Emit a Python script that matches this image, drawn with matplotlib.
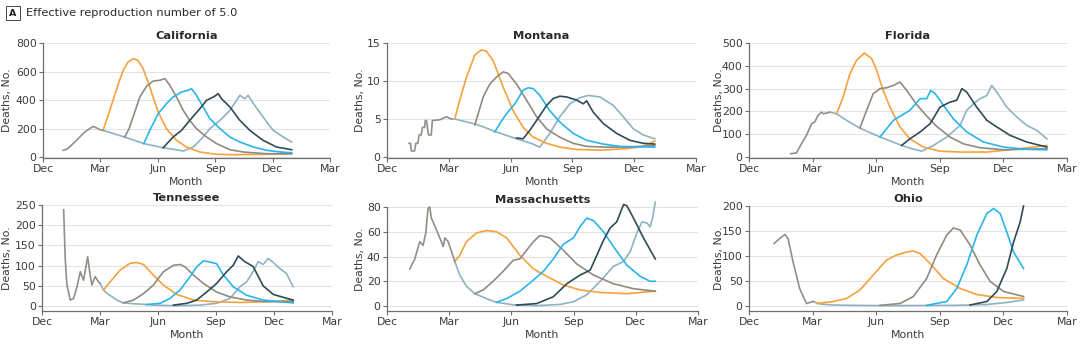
import matplotlib
matplotlib.use("Agg")
import matplotlib.pyplot as plt

plt.rcParams['font.family'] = ['Liberation Sans Narrow', 'DejaVu Sans']

# x = months after Dec 1 (0=Dec, 3=Mar, 6=Jun, 9=Sep, 12=Dec, 15=Mar)
month_ticks = [0, 3, 6, 9, 12, 15]
month_labels = ["Dec", "Mar", "Jun", "Sep", "Dec", "Mar"]

# series colours: observed, then scenarios 1..5 (5 = baseline / last start)
c_obs = "#8e9188"
c_s1 = "#f7a13c"
c_s2 = "#918a82"
c_s3 = "#29b5ea"
c_s4 = "#2f4b58"
c_s5 = "#8db3c2"

# ---- California
ca_obs = [(1.05, 47), (1.25, 55), (1.48, 82), (1.7, 110), (1.92, 140), (2.18, 175), (2.44, 199),
          (2.62, 215), (2.79, 205), (2.97, 192), (3.14, 187)]
ca_s1 = [(3.14, 187), (3.4, 290), (3.66, 398), (3.93, 510), (4.19, 608), (4.45, 667), (4.71, 690),
         (4.97, 678), (5.23, 620), (5.58, 491), (6.02, 316), (6.45, 199), (6.98, 117), (7.5, 70),
         (8.2, 35), (9.07, 19), (9.94, 16), (11.69, 19), (13.0, 23)]
ca_s2 = [(4.27, 140), (4.5, 200), (4.71, 281), (5.06, 421), (5.41, 496), (5.76, 533), (6.1, 538),
         (6.37, 550), (6.63, 503), (6.98, 421), (7.33, 327), (7.67, 257), (8.02, 199), (8.55, 140),
         (9.07, 94), (9.77, 51), (10.47, 35), (11.69, 23), (13.0, 23)]
ca_s3 = [(5.27, 94), (5.58, 187), (6.02, 304), (6.45, 374), (6.8, 421), (7.24, 456), (7.59, 468),
         (7.76, 480), (8.02, 433), (8.37, 351), (8.72, 269), (9.25, 199), (9.77, 140), (10.29, 105),
         (11.0, 70), (11.69, 47), (12.4, 35), (13.0, 30)]
ca_s4 = [(6.28, 65), (6.8, 140), (7.24, 187), (7.67, 257), (8.2, 339), (8.55, 398), (8.9, 421),
         (9.16, 444), (9.33, 409), (9.77, 351), (10.29, 257), (10.81, 187), (11.5, 117), (12.21, 70),
         (13.0, 51)]
ca_s5 = [(3.14, 187), (4.27, 140), (5.27, 94), (6.28, 65), (7.0, 50), (7.33, 42), (7.85, 70),
         (8.37, 140), (8.72, 199), (9.25, 257), (9.77, 327), (10.12, 398), (10.29, 433), (10.55, 409),
         (10.72, 433), (11.0, 374), (11.5, 281), (12.03, 187), (12.56, 140), (13.0, 105)]

# ---- Montana
mt_obs = [(1.07, 1.8), (1.14, 1.8), (1.18, 0.8), (1.34, 0.8), (1.4, 1.8), (1.5, 1.8), (1.56, 2.9),
          (1.66, 2.9), (1.72, 3.9), (1.82, 3.9), (1.86, 4.8), (1.92, 4.8), (1.96, 3.9), (2.02, 2.9),
          (2.15, 2.9), (2.2, 4.8), (2.56, 4.9), (2.88, 5.3), (3.13, 5.0)]
mt_s1 = [(3.29, 5.0), (3.53, 7.5), (3.86, 10.5), (4.26, 13.4), (4.58, 14.1), (4.83, 13.9),
         (5.15, 12.7), (5.64, 9.2), (6.12, 6.1), (6.61, 3.9), (7.1, 2.6), (7.75, 1.8), (8.39, 1.3),
         (9.2, 1.0), (10.34, 0.9), (11.63, 1.1), (12.44, 1.4), (13.0, 2.1)]
mt_s2 = [(4.26, 4.2), (4.67, 7.9), (4.99, 9.6), (5.31, 10.5), (5.64, 11.2), (5.88, 11.0),
         (6.29, 9.6), (6.77, 7.5), (7.26, 5.3), (7.75, 3.7), (8.39, 2.6), (9.04, 1.8), (9.69, 1.4),
         (10.66, 1.3), (11.63, 1.3), (13.0, 1.5)]
mt_s3 = [(5.23, 3.3), (5.48, 4.4), (5.8, 5.7), (6.21, 7.0), (6.61, 8.8), (6.85, 9.1), (7.1, 9.0),
         (7.42, 8.1), (7.9, 6.1), (8.39, 4.6), (9.04, 3.1), (9.69, 2.2), (10.5, 1.7), (11.31, 1.4),
         (13.0, 1.3)]
mt_s4 = [(6.29, 2.5), (6.61, 2.4), (6.93, 3.5), (7.26, 4.8), (7.75, 6.8), (8.07, 7.7), (8.39, 8.0),
         (8.72, 7.9), (9.2, 7.5), (9.53, 7.0), (9.69, 7.4), (10.01, 5.9), (10.5, 4.4), (11.15, 3.1),
         (11.79, 2.2), (12.44, 1.8), (13.0, 1.7)]
mt_s5 = [(3.13, 5.0), (3.29, 5.0), (4.34, 4.3), (5.31, 3.3), (6.28, 2.4), (7.0, 1.8), (7.42, 1.3),
         (7.9, 3.1), (8.39, 5.3), (8.88, 7.0), (9.36, 7.8), (9.77, 8.1), (10.34, 7.9), (10.98, 6.8),
         (11.47, 5.3), (11.96, 3.7), (12.44, 2.9), (13.0, 2.4)]

# ---- Florida
fl_obs = [(1.97, 15), (2.24, 18), (2.47, 58), (2.71, 95), (2.95, 146), (3.1, 154), (3.26, 183),
          (3.42, 197), (3.5, 190), (3.66, 193), (3.81, 197)]
fl_s1 = [(4.13, 190), (4.44, 263), (4.76, 365), (5.07, 424), (5.44, 456), (5.79, 431), (6.02, 380),
         (6.33, 292), (6.65, 219), (7.12, 132), (7.59, 80), (8.22, 44), (9.01, 26), (9.96, 22),
         (11.22, 22), (12.79, 37), (14.05, 51)]
fl_s2 = [(5.23, 127), (5.55, 205), (5.86, 278), (6.18, 300), (6.49, 304), (6.81, 314), (7.12, 329),
         (7.44, 292), (7.91, 230), (8.38, 180), (8.85, 135), (9.48, 88), (10.11, 58), (10.9, 41),
         (12.0, 32), (14.05, 37)]
fl_s3 = [(6.18, 88), (6.49, 124), (6.81, 161), (7.2, 183), (7.59, 205), (8.07, 256), (8.38, 256),
         (8.57, 292), (8.78, 278), (9.17, 227), (9.64, 168), (10.27, 110), (11.06, 66), (12.01, 44),
         (13.1, 34), (14.05, 32)]
fl_s4 = [(7.2, 51), (7.59, 80), (8.07, 110), (8.54, 146), (9.01, 219), (9.48, 241), (9.8, 249),
         (10.04, 300), (10.27, 285), (10.74, 219), (11.22, 161), (11.69, 132), (12.32, 95),
         (13.1, 66), (14.05, 44)]
fl_s5 = [(3.81, 197), (4.13, 190), (4.6, 161), (5.23, 127), (6.18, 88), (7.2, 51), (7.7, 36),
         (8.15, 26), (8.7, 51), (9.33, 88), (9.96, 139), (10.27, 205), (10.59, 234), (10.9, 256),
         (11.22, 270), (11.45, 314), (11.69, 285), (12.16, 219), (12.64, 175), (13.1, 139),
         (13.58, 117), (14.05, 80)]

# ---- Tennessee
tn_obs = [(1.12, 238), (1.2, 118), (1.29, 52), (1.46, 15), (1.63, 19), (1.81, 48), (1.98, 85),
          (2.15, 64), (2.36, 122), (2.49, 77), (2.58, 52), (2.75, 73), (2.92, 60), (3.01, 56)]
tn_s1 = [(3.18, 40), (3.53, 60), (4.04, 89), (4.56, 106), (4.9, 108), (5.25, 103), (5.76, 77),
         (6.28, 52), (6.97, 29), (7.83, 15), (8.86, 11), (10.24, 9), (11.61, 11), (12.99, 15)]
tn_s2 = [(4.21, 8), (4.73, 15), (5.25, 31), (5.76, 52), (6.28, 85), (6.8, 101), (7.14, 103),
         (7.4, 97), (7.83, 77), (8.35, 56), (9.03, 35), (9.72, 23), (10.58, 15), (11.61, 11),
         (12.99, 11)]
tn_s3 = [(5.42, 4), (6.11, 7), (6.62, 19), (7.14, 40), (7.66, 73), (8.0, 97), (8.35, 112),
         (8.6, 110), (9.03, 105), (9.38, 77), (9.89, 48), (10.58, 27), (11.44, 15), (12.99, 8)]
tn_s4 = [(6.8, 2.5), (7.49, 7), (8.0, 15), (8.52, 35), (9.03, 56), (9.55, 85), (9.89, 101),
         (10.15, 124), (10.49, 110), (10.92, 98), (11.44, 50), (11.96, 29), (12.47, 22), (12.99, 15)]
tn_s5 = [(3.01, 56), (3.18, 40), (3.35, 32), (3.87, 15), (4.21, 8), (4.73, 6), (5.42, 4),
         (5.76, 2.5), (6.97, 1), (8.17, 2.5), (9.03, 7), (9.72, 19), (10.24, 48), (10.58, 60),
         (10.92, 85), (11.18, 110), (11.44, 103), (11.7, 118), (11.96, 108), (12.3, 93),
         (12.64, 81), (12.99, 48)]

# ---- Massachusetts
ma_obs = [(1.1, 30), (1.34, 38), (1.58, 52), (1.74, 49), (1.87, 59), (1.98, 79), (2.06, 80),
          (2.14, 71), (2.3, 65), (2.55, 55), (2.71, 48), (2.79, 55), (2.95, 52), (3.11, 44),
          (3.27, 36)]
ma_s1 = [(3.27, 36), (3.51, 41), (3.83, 52), (4.32, 59), (4.8, 61), (5.28, 60), (5.77, 55),
         (6.41, 41), (7.06, 30), (7.7, 24), (8.51, 17), (9.31, 13), (10.28, 11), (11.57, 10),
         (12.94, 12)]
ma_s2 = [(4.24, 10), (4.64, 13), (5.12, 20), (5.6, 28), (6.09, 37), (6.41, 38), (6.73, 45),
         (7.06, 52), (7.38, 57), (7.86, 55), (8.51, 45), (9.15, 34), (9.96, 25), (10.92, 18),
         (11.89, 14), (12.94, 12)]
ma_s3 = [(5.28, 3), (5.77, 6), (6.41, 12), (7.06, 21), (7.54, 28), (8.02, 38), (8.51, 50),
         (8.99, 55), (9.31, 64), (9.63, 71), (9.96, 69), (10.44, 60), (10.92, 48), (11.57, 33),
         (12.21, 24), (12.69, 20), (12.94, 20)]
ma_s4 = [(6.25, 0.8), (7.22, 2), (8.02, 7.5), (8.67, 18), (9.31, 25), (9.8, 29), (10.12, 41),
         (10.44, 53), (10.76, 63), (11.08, 68), (11.41, 82), (11.57, 81), (11.89, 71), (12.37, 55),
         (12.94, 38)]
ma_s5 = [(3.27, 36), (3.51, 25), (3.83, 16), (4.24, 10), (4.8, 6), (5.28, 3), (6.09, 1),
         (7.22, 0.3), (8.35, 1.3), (8.99, 3.5), (9.63, 9), (10.28, 20), (10.92, 32), (11.41, 36),
         (11.73, 44), (12.05, 59), (12.3, 68), (12.54, 67), (12.69, 64), (12.82, 72), (12.94, 84)]

# ---- Ohio
oh_obs = [(1.18, 125), (1.45, 135), (1.69, 143), (1.84, 135), (2.08, 88), (2.39, 35), (2.71, 5),
          (2.87, 7), (3.03, 9)]
oh_s1 = [(3.18, 5), (3.97, 9), (4.6, 15), (5.23, 32), (5.86, 62), (6.49, 92), (6.96, 102),
         (7.44, 108), (7.75, 110), (8.07, 105), (8.54, 85), (9.17, 55), (9.96, 35), (10.75, 23),
         (11.69, 17), (12.95, 15)]
oh_s2 = [(6.18, 1.3), (7.12, 5), (7.75, 19), (8.38, 55), (8.85, 102), (9.33, 142), (9.64, 156),
         (9.96, 152), (10.43, 122), (10.9, 82), (11.38, 49), (12.01, 29), (12.95, 19)]
oh_s3 = [(8.38, 1.3), (9.33, 9), (9.8, 35), (10.27, 82), (10.75, 142), (11.22, 185), (11.54, 195),
         (11.85, 185), (12.16, 148), (12.48, 108), (12.95, 75)]
oh_s4 = [(10.43, 2), (11.22, 9), (11.69, 29), (12.16, 75), (12.48, 128), (12.79, 168), (12.95, 200)]
oh_s5 = [(3.03, 9), (3.34, 4), (3.97, 2), (4.92, 1.3), (6.49, 0.7), (9.64, 1.3), (11.22, 3),
         (12.16, 7), (12.95, 12)]

# panel layout in pixels: (left, top, right, bottom)
W, H = 1080, 347
panels = [
    ("California", (43, 43, 330, 158), (-7, 800), [0, 200, 400, 600, 800],
     [ca_obs, ca_s1, ca_s2, ca_s3, ca_s4, ca_s5], 31),
    ("Montana", (387, 43, 696, 158), (-0.13, 15), [0, 5, 10, 15],
     [mt_obs, mt_s1, mt_s2, mt_s3, mt_s4, mt_s5], 22),
    ("Florida", (749, 43, 1067, 158), (-4, 500), [0, 100, 200, 300, 400, 500],
     [fl_obs, fl_s1, fl_s2, fl_s3, fl_s4, fl_s5], 25),
    ("Tennessee", (42, 205, 332, 311), (-12, 250), [0, 50, 100, 150, 200, 250],
     [tn_obs, tn_s1, tn_s2, tn_s3, tn_s4, tn_s5], 30),
    ("Massachusetts", (387, 207, 698, 311), (-4, 80), [0, 20, 40, 60, 80],
     [ma_obs, ma_s1, ma_s2, ma_s3, ma_s4, ma_s5], 22),
    ("Ohio", (749, 206, 1067, 311), (-10, 200), [0, 50, 100, 150, 200],
     [oh_obs, oh_s1, oh_s2, oh_s3, oh_s4, oh_s5], 25),
]

fig = plt.figure(figsize=(W / 100, H / 100), dpi=100)

txt = "#3a3a3a"
for name, (l, t, r, b), ylim, yticks, series, ylab_off in panels:
    ax = fig.add_axes([l / W, 1 - b / H, (r - l) / W, (b - t) / H])
    obs, s1, s2, s3, s4, s5 = series
    # baseline / last scenario first, then the others on top, observed last
    for data, col in [(s5, c_s5), (s1, c_s1), (s2, c_s2), (s3, c_s3), (s4, c_s4), (obs, c_obs)]:
        xs = [p[0] for p in data]
        ys = [p[1] for p in data]
        ax.plot(xs, ys, color=col, lw=1.2, solid_joinstyle="round", clip_on=False)
    ax.set_xlim(0, 15)
    ax.set_ylim(*ylim)
    ax.set_xticks(month_ticks)
    ax.set_xticklabels(month_labels)
    ax.set_yticks(yticks)
    ax.yaxis.grid(True, color="#e3e3e3", lw=0.8)
    ax.set_axisbelow(True)
    for s in ["top", "right"]:
        ax.spines[s].set_visible(False)
    for s in ["left", "bottom"]:
        ax.spines[s].set_color("#6f6f6f")
        ax.spines[s].set_linewidth(0.9)
    ax.tick_params(axis="both", labelsize=7.8, colors=txt, length=3, width=0.8, pad=1.5)
    ax.tick_params(axis="both", color="#6f6f6f")
    ax.set_title(name, fontsize=8.2, fontweight="bold", color="#2a2a2a", pad=3)
    ax.set_xlabel("Month", fontsize=7.8, color=txt, labelpad=2)
    ax.set_ylabel("Deaths, No.", fontsize=7.8, color=txt)
    ax.yaxis.set_label_coords(-ylab_off / (r - l), 0.5)

# panel tag
fig.text(13 / W, 1 - 13 / H, "A", fontsize=6.8, fontweight="bold", color="#222222",
         ha="center", va="center",
         bbox=dict(boxstyle="square,pad=0.3", fc="white", ec="#444444", lw=0.7))
fig.text(26 / W, 1 - 13 / H, "Effective reproduction number of 5.0", fontsize=8.2,
         color="#2a2a2a", ha="left", va="center")

fig.savefig("out.png", dpi=100)
